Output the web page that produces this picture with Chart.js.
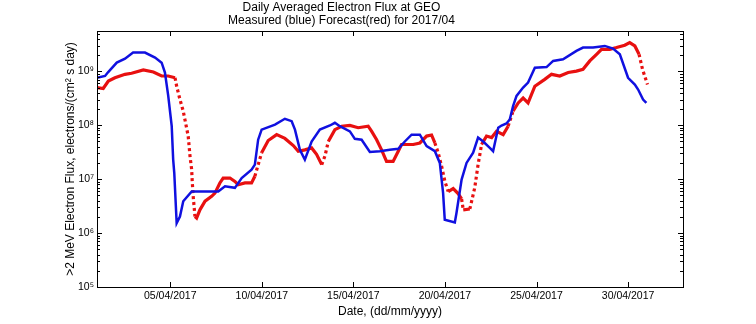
<!DOCTYPE html>
<html>
<head>
<meta charset="utf-8">
<script src="https://cdn.jsdelivr.net/npm/chart.js@4/dist/chart.umd.min.js"></script>
<style>html,body{margin:0;padding:0;background:#fff}</style>
</head>
<body>
<canvas id="fluxChart" width="756" height="324"></canvas>
<script>
// day of April 2017 (fractional) and >2 MeV flux
const measuredDays = [1.00,1.44,1.60,2.08,2.53,2.97,3.62,4.17,4.53,4.71,4.89,5.08,5.16,5.22,5.35,5.53,5.71,6.17,7.62,7.99,8.53,8.90,9.44,9.62,9.80,9.99,10.72,11.26,11.63,11.81,12.08,12.35,12.72,13.17,13.72,13.99,14.26,14.81,15.08,15.45,15.90,16.45,16.99,17.45,17.81,18.18,18.63,19.00,19.45,19.72,19.90,19.99,20.54,20.63,20.91,21.18,21.54,21.81,22.09,22.45,22.63,22.91,23.09,23.36,23.54,23.72,23.91,24.27,24.54,24.91,25.55,25.91,26.45,27.18,27.54,28.09,28.73,29.18,29.55,30.00,30.37,30.55,30.82,31.00];
const measuredFlux = [7.6e8,8.2e8,9.6e8,1.45e9,1.72e9,2.23e9,2.23e9,1.80e9,1.45e9,9.5e8,3.5e8,9.6e7,2.3e7,1.3e7,1.53e6,2.03e6,3.9e6,5.9e6,5.9e6,7.4e6,6.9e6,1.05e7,1.5e7,1.86e7,5.4e7,8.3e7,1.03e8,1.32e8,1.19e8,8.3e7,3.5e7,2.3e7,5.0e7,8.3e7,9.9e7,1.11e8,9.6e7,7.7e7,5.6e7,5.4e7,3.2e7,3.3e7,3.5e7,3.65e7,5.0e7,6.7e7,6.7e7,4.1e7,3.3e7,2.0e7,5.5e6,1.77e6,1.57e6,2.35e6,9.8e6,2.0e7,3.1e7,5.9e7,5.0e7,3.8e7,3.3e7,9.0e7,9.9e7,1.08e8,1.28e8,2.26e8,3.5e8,5.0e8,6.2e8,1.17e9,1.2e9,1.56e9,1.67e9,2.39e9,2.76e9,2.76e9,2.96e9,2.64e9,2.07e9,7.6e8,5.7e8,4.6e8,3.0e8,2.6e8];

const forecastDays = [1.00,1.34,1.62,1.98,2.53,2.89,3.53,4.08,4.53,4.89,5.26,5.35,5.53,5.71,5.80,5.98,6.08,6.17,6.20,6.26,6.35,6.44,6.62,6.90,7.26,7.44,7.71,7.89,8.26,8.53,8.71,9.08,9.44,9.62,9.99,10.35,10.81,11.26,11.72,11.99,12.35,12.72,12.99,13.27,13.45,13.63,13.99,14.36,14.81,15.26,15.81,16.00,16.27,16.54,16.81,17.17,17.45,17.63,18.27,18.63,19.00,19.27,19.45,19.63,19.82,20.00,20.18,20.45,20.72,20.91,21.00,21.36,21.63,21.81,22.00,22.27,22.55,22.82,23.18,23.45,23.72,24.00,24.27,24.54,24.91,25.45,25.82,26.27,26.73,27.18,27.54,27.91,28.28,28.55,29.00,29.37,29.82,30.09,30.37,30.60,30.79,31.06];
const forecastFlux = [5.0e8,4.8e8,6.6e8,7.6e8,8.8e8,9.2e8,1.06e9,9.7e8,8.2e8,8.2e8,7.6e8,5.3e8,3.0e8,1.82e8,1.28e8,6.3e7,2.65e7,1.5e7,9.1e6,4.5e6,2.03e6,1.9e6,2.7e6,3.9e6,4.8e6,5.5e6,8.5e6,1.05e7,1.05e7,9.1e6,7.9e6,8.5e6,8.5e6,1.13e7,3.1e7,5.2e7,6.7e7,5.7e7,4.2e7,3.3e7,3.5e7,3.8e7,2.9e7,1.86e7,2.7e7,5.0e7,8.3e7,9.6e7,9.9e7,9.0e7,9.6e7,7.7e7,5.4e7,3.5e7,2.14e7,2.14e7,3.3e7,4.4e7,4.4e7,4.7e7,6.3e7,6.6e7,4.7e7,3.1e7,1.73e7,9.0e6,5.9e6,6.7e6,5.4e6,4.3e6,2.7e6,2.8e6,7.0e6,1.86e7,4.4e7,6.3e7,5.9e7,7.7e7,6.7e7,9.6e7,1.82e8,2.6e8,3.2e8,2.6e8,5.3e8,7.1e8,8.8e8,8.2e8,9.5e8,1.01e9,1.09e9,1.56e9,2.07e9,2.56e9,2.56e9,2.76e9,3.05e9,3.42e9,2.96e9,2.07e9,1.09e9,5.7e8];

const xTickDays = [5, 10, 15, 20, 25, 30];
const xTickLabels = ['05/04/2017', '10/04/2017', '15/04/2017', '20/04/2017', '25/04/2017', '30/04/2017'];
const yDecades = [5, 6, 7, 8, 9];
const yTickLabels = ['10\u2075', '10\u2076', '10\u2077', '10\u2078', '10\u2079'];

const FONT = "'Liberation Sans', Arial, sans-serif";
const X_MIN = 1, X_MAX = 33, Y_MIN = 1e5, Y_MAX = 5.6e9;

function toPoints(xs, ys) {
  return xs.map((d, i) => ({x: d, y: ys[i]}));
}

// MATLAB style box with inward tick marks on all four sides
const frameTicks = {
  id: 'frameTicks',
  afterDatasetsDraw(chart) {
    const {ctx, chartArea: a, scales: {x, y}} = chart;
    ctx.save();
    ctx.strokeStyle = '#000';
    ctx.lineWidth = 1;
    ctx.beginPath();
    x.ticks.forEach(t => {
      const px = Math.round(x.getPixelForValue(t.value)) + 0.5;
      ctx.moveTo(px, a.bottom); ctx.lineTo(px, a.bottom - 5);
      ctx.moveTo(px, a.top); ctx.lineTo(px, a.top + 5);
    });
    y.ticks.forEach(t => {
      const py = Math.round(y.getPixelForValue(t.value)) + 0.5;
      const len = t.major ? 5 : 3;
      ctx.moveTo(a.left, py); ctx.lineTo(a.left + len, py);
      ctx.moveTo(a.right, py); ctx.lineTo(a.right - len, py);
    });
    ctx.stroke();
    ctx.strokeRect(Math.round(a.left) + 0.5, Math.round(a.top) + 0.5, Math.round(a.width), Math.round(a.height));
    ctx.restore();
  }
};

new Chart(document.getElementById('fluxChart'), {
  type: 'line',
  data: {
    datasets: [
      {
        label: 'Measured',
        data: toPoints(measuredDays, measuredFlux),
        borderColor: '#1010e0',
        borderWidth: 2.5,
        pointRadius: 0,
        tension: 0
      },
      {
        label: 'Forecast',
        data: toPoints(forecastDays, forecastFlux),
        borderColor: '#e81010',
        borderWidth: 3.2,
        borderCapStyle: 'butt',
        pointRadius: 0,
        tension: 0,
        segment: {
          // steep parts show as separate dots
          borderDash: ctx => {
            const dx = Math.abs(ctx.p1.x - ctx.p0.x), dy = Math.abs(ctx.p1.y - ctx.p0.y);
            return dy > 2.5 * dx ? [3, 3] : undefined;
          }
        }
      }
    ]
  },
  options: {
    responsive: false,
    animation: false,
    layout: {padding: {left: 0, right: 73, top: 0, bottom: 0}},
    plugins: {
      legend: {display: false},
      tooltip: {enabled: false},
      title: {
        display: true,
        text: ['Daily Averaged Electron Flux at GEO', 'Measured (blue) Forecast(red) for 2017/04'],
        color: '#000',
        font: {family: FONT, size: 12, weight: 'normal', lineHeight: 1.1},
        padding: {top: 1, bottom: 3.6}
      }
    },
    scales: {
      x: {
        type: 'linear',
        min: X_MIN,
        max: X_MAX,
        afterBuildTicks: s => { s.ticks = xTickDays.map(v => ({value: v})); },
        afterFit: s => { s.height = 37; },
        grid: {display: false, drawTicks: false},
        border: {display: false},
        ticks: {
          autoSkip: false,
          maxRotation: 0,
          padding: 3,
          color: '#000',
          font: {family: FONT, size: 10.5},
          callback: v => xTickLabels[xTickDays.indexOf(v)]
        },
        title: {
          display: true,
          text: 'Date, (dd/mm/yyyy)',
          color: '#000',
          font: {family: FONT, size: 12},
          padding: {top: 0, bottom: 5}
        }
      },
      y: {
        type: 'logarithmic',
        min: Y_MIN,
        max: Y_MAX,
        afterBuildTicks: s => {
          const ticks = [];
          yDecades.forEach(e => {
            for (let m = 1; m <= 9; m++) {
              const v = m * Math.pow(10, e);
              if (v <= Y_MAX) ticks.push({value: v, major: m === 1});
            }
          });
          s.ticks = ticks;
        },
        afterFit: s => { s.width = 97; },
        grid: {display: false, drawTicks: false},
        border: {display: false},
        ticks: {
          autoSkip: false,
          padding: 3,
          color: '#000',
          font: {family: FONT, size: 10.5},
          callback: v => {
            const e = Math.round(Math.log10(v));
            const i = yDecades.indexOf(e);
            return (i >= 0 && Math.abs(v - Math.pow(10, e)) < 1e-6 * v) ? yTickLabels[i] : '';
          }
        },
        title: {
          display: true,
          text: '>2 MeV Electron Flux, electrons/(cm\u00b2 s day)',
          color: '#000',
          font: {family: FONT, size: 12},
          padding: {top: 63, bottom: 0}
        }
      }
    }
  },
  plugins: [frameTicks]
});
</script>
</body>
</html>
